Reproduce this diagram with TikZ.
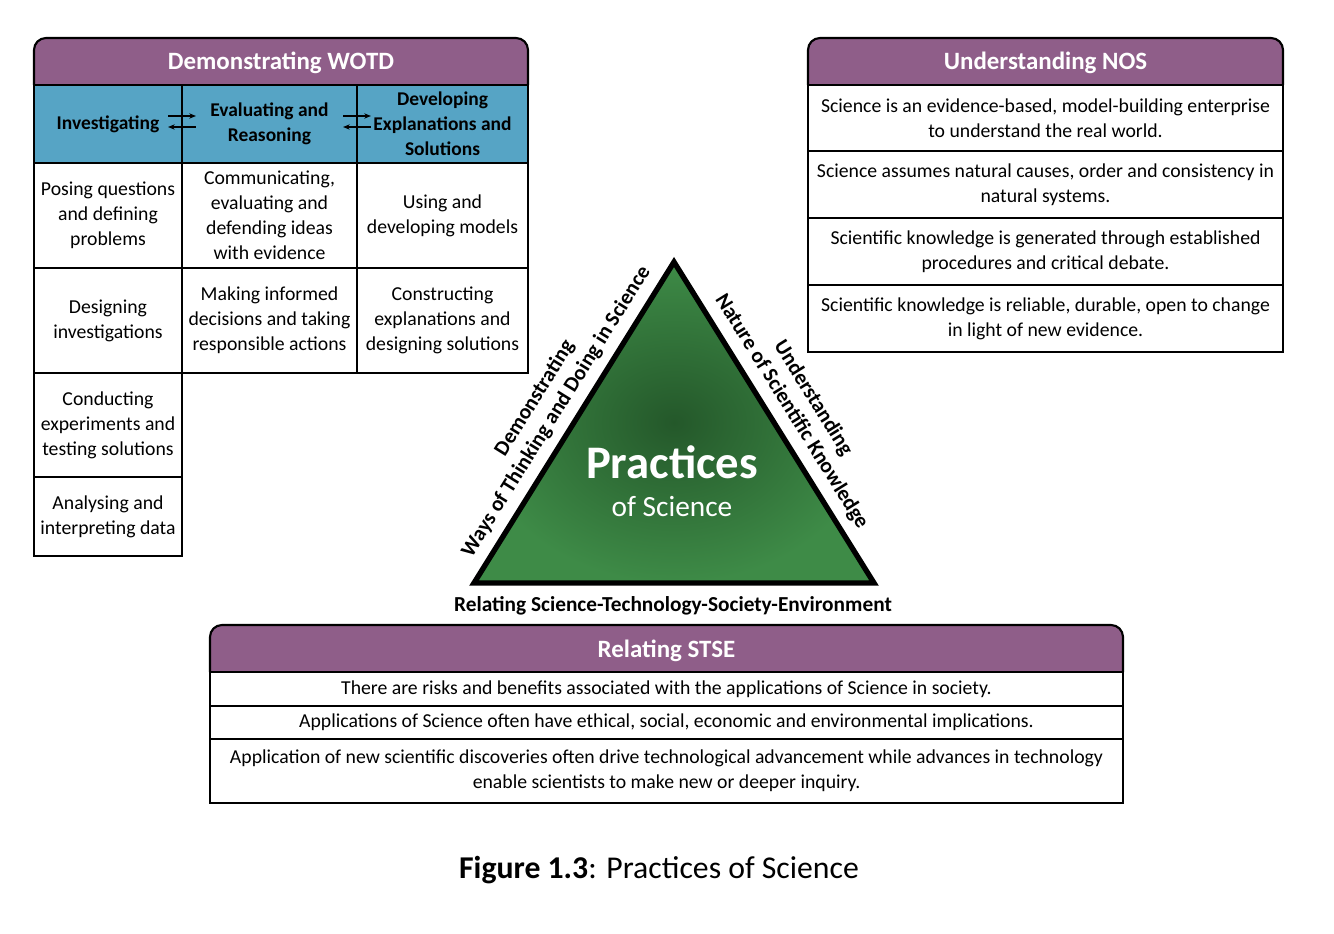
\documentclass[tikz,border=0pt]{standalone}
\usepackage{fontspec}
\setmainfont{Carlito}
\usetikzlibrary{arrows.meta}
\definecolor{hdrpurple}{RGB}{143,94,137}
\definecolor{hdrblue}{RGB}{86,164,197}
\definecolor{trigreen}{RGB}{62,139,71}
\definecolor{tridark}{RGB}{36,88,42}
\tikzset{
  every node/.append style={font=\fontsize{14.8}{18.75}\selectfont},
  cell/.style 2 args={draw, line width=1.6pt, fill=white, minimum width=#1*0.75pt,
    minimum height=#2*0.75pt, align=center, inner sep=0pt},
  subhead/.style 2 args={cell={#1}{#2}, fill=hdrblue, font=\fontsize{14.6}{18.75}\selectfont\bfseries},
  hdrbar/.style={fill=hdrpurple, draw, line width=1.6pt, rounded corners=9pt},
  hdrtext/.style={text=white, font=\fontsize{18.7}{22}\selectfont\bfseries},
  sidelabel/.style={font=\fontsize{16}{19}\selectfont\bfseries, align=center},
  flow/.style={line width=0.9pt, -{Stealth[length=5pt,width=4pt]}}
}
\begin{document}
\begin{tikzpicture}[x=0.75pt, y=-0.75pt]
    \useasboundingbox (0,0) rectangle (1334,934);

    % Demonstrating WOTD
    \filldraw[hdrbar] (34,85) -- (34,38) -- (528,38) -- (528,85);
    \node[hdrtext] (wotd) at (281,63) {Demonstrating WOTD};
    \node[subhead={148}{78}] (inv) at (108,124) {Investigating};
    \node[subhead={175}{78}] (eval) at (269.5,124) {Evaluating and\\Reasoning};
    \node[subhead={171}{78}] (dev) at (442.5,124) {Developing\\Explanations and\\Solutions};
    \node[cell={148}{105}] (pose) at (108,215.5) {Posing questions\\and defining\\problems};
    \node[cell={175}{105}] (comm) at (269.5,215.5) {Communicating,\\evaluating and\\defending ideas\\with evidence};
    \node[cell={171}{105}] (model) at (442.5,215.5) {Using and\\developing models};
    \node[cell={148}{105}] (design) at (108,320.5) {Designing\\investigations};
    \node[cell={175}{105}] (decide) at (269.5,320.5) {Making informed\\decisions and taking\\responsible actions};
    \node[cell={171}{105}] (explain) at (442.5,320.5) {Constructing\\explanations and\\designing solutions};
    \node[cell={148}{104}] (conduct) at (108,425) {Conducting\\experiments and\\testing solutions};
    \node[cell={148}{79}] (data) at (108,516.5) {Analysing and\\interpreting data};
    \draw[flow] ([shift={(-15,-8)}]inv.east) -- ([shift={(15,-8)}]eval.west);
    \draw[flow] ([shift={(15,3)}]eval.west) -- ([shift={(-15,3)}]inv.east);
    \draw[flow] ([shift={(-15,-8)}]eval.east) -- ([shift={(15,-8)}]dev.west);
    \draw[flow] ([shift={(15,3)}]dev.west) -- ([shift={(-15,3)}]eval.east);

    % Understanding NOS
    \filldraw[hdrbar] (808,85) -- (808,38) -- (1283,38) -- (1283,85);
    \node[hdrtext] (nos) at (1045.5,63) {Understanding NOS};
    \node[cell={475}{66}] (nos1) at (1045.5,118) {Science is an evidence-based, model-building enterprise\\to understand the real world.};
    \node[cell={475}{67}] (nos2) at (1045.5,184.5) {Science assumes natural causes, order and consistency in\\natural systems.};
    \node[cell={475}{67}] (nos3) at (1045.5,251.5) {Scientific knowledge is generated through established\\procedures and critical debate.};
    \node[cell={475}{67}] (nos4) at (1045.5,318.5) {Scientific knowledge is reliable, durable, open to change\\in light of new evidence.};

    % triangle
    \coordinate (apex) at (674,262);
    \coordinate (bl) at (474,583);
    \coordinate (br) at (874,583);
    \shade[inner color=tridark, outer color=trigreen] (apex) -- (br) -- (bl) -- cycle;
    \draw[line width=4pt, line join=miter] (apex) -- (br) -- (bl) -- cycle;
    \node[text=white, font=\fontsize{35}{40}\selectfont\bfseries] (prac) at (672,462) {Practices};
    \node[text=white, font=\fontsize{22}{24}\selectfont] (ofsci) at (672,507) {of Science};
    \path (bl) -- (apex) node[sidelabel, midway, sloped, above=5pt] (wotdside) {Demonstrating\\Ways of Thinking and Doing in Science};
    \path (apex) -- (br) node[sidelabel, midway, sloped, above=5pt] (nosside) {Understanding\\Nature of Scientific Knowledge};
    \node[sidelabel] (stseside) at (673,606) {Relating Science-Technology-Society-Environment};

    % Relating STSE
    \filldraw[hdrbar] (210,672) -- (210,625) -- (1123,625) -- (1123,672);
    \node[hdrtext] (stse) at (666.5,651) {Relating STSE};
    \node[cell={913}{34}] (stse1) at (666.5,689) {There are risks and benefits associated with the applications of Science in society.};
    \node[cell={913}{33}] (stse2) at (666.5,722.5) {Applications of Science often have ethical, social, economic and environmental implications.};
    \node[cell={913}{64}] (stse3) at (666.5,771) {Application of new scientific discoveries often drive technological advancement while advances in technology\\enable scientists to make new or deeper inquiry.};

    \node[font=\fontsize{23.8}{28}\selectfont] (cap) at (659,870) {\textbf{Figure 1.3}: Practices of Science};
\end{tikzpicture}
\end{document}
